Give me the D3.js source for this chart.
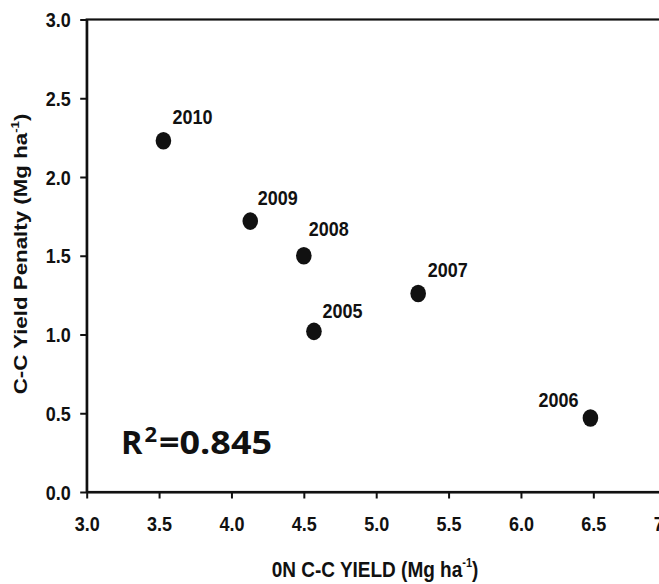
<!DOCTYPE html>
<html><head><meta charset="utf-8">
<script src="https://cdn.jsdelivr.net/npm/d3@7"></script>
<style>body{margin:0;background:#fff}svg{display:block}</style>
</head><body><svg id="c" width="659" height="584"></svg>
<script>
// ---- data ----
const years = ["2010", "2009", "2008", "2007", "2005", "2006"];
const yield0N = [3.53, 4.13, 4.50, 5.29, 4.57, 6.48];
const penalty = [2.23, 1.72, 1.50, 1.26, 1.02, 0.47];
const xTicks = [3.0, 3.5, 4.0, 4.5, 5.0, 5.5, 6.0, 6.5, 7.0];
const yTicks = [0.0, 0.5, 1.0, 1.5, 2.0, 2.5, 3.0];
const r2Value = "0.845";
const xTitle = "0N C-C YIELD (Mg ha";
const yTitle = "C-C Yield Penalty (Mg ha";

// ---- layout ----
const svg = d3.select("#c");
const x = d3.scaleLinear().domain([3, 7]).range([86.7, 665.7]);
const y = d3.scaleLinear().domain([0, 3]).range([492, 19.5]);
const font = "'Liberation Sans', Arial, Helvetica, sans-serif";
const ink = "#111";
// label offsets (px) relative to point centre
const labelPos = {
  "2010": {dx: 9, dy: -16.5, anchor: "start"},
  "2009": {dx: 7.5, dy: -16.5, anchor: "start"},
  "2008": {dx: 5, dy: -20, anchor: "start"},
  "2007": {dx: 9.5, dy: -16.5, anchor: "start"},
  "2005": {dx: 8.5, dy: -13.5, anchor: "start"},
  "2006": {dx: -12, dy: -10.5, anchor: "end"}
};

// frame
svg.append("rect")
  .attr("x", x(3)).attr("y", y(3))
  .attr("width", x(7) - x(3)).attr("height", y(0) - y(3))
  .attr("fill", "none").attr("stroke", ink).attr("stroke-width", 2.2);

// x axis
const gx = svg.append("g").attr("transform", `translate(0,${y(0)})`)
  .call(d3.axisBottom(x).tickValues(xTicks).tickSize(6.5).tickSizeOuter(0).tickFormat(d3.format(".1f")));
gx.select(".domain").attr("stroke", ink).attr("stroke-width", 2.2);
gx.selectAll(".tick line").attr("stroke", ink).attr("stroke-width", 2);
gx.selectAll(".tick text")
  .attr("y", null).attr("dy", null)
  .attr("transform", "translate(0,38.5) scale(1,1.1)")
  .attr("font-size", 18).attr("font-weight", "bold")
  .attr("font-family", font).attr("fill", ink);

// y axis
const gy = svg.append("g").attr("transform", `translate(${x(3)},0)`)
  .call(d3.axisLeft(y).tickValues(yTicks).tickSize(6.5).tickSizeOuter(0).tickFormat(d3.format(".1f")));
gy.select(".domain").attr("stroke", ink).attr("stroke-width", 2.2);
gy.selectAll(".tick line").attr("stroke", ink).attr("stroke-width", 2);
gy.selectAll(".tick text")
  .attr("x", null).attr("dy", "0.36em")
  .attr("transform", "translate(-16,0) scale(1,1.1)")
  .attr("text-anchor", "end")
  .attr("font-size", 18).attr("font-weight", "bold")
  .attr("font-family", font).attr("fill", ink);

// points
const pts = years.map((yr, i) => ({yr, xv: yield0N[i], yv: penalty[i]}));
svg.append("g").selectAll("ellipse").data(pts).join("ellipse")
  .attr("cx", d => x(d.xv)).attr("cy", d => y(d.yv))
  .attr("rx", 7.8).attr("ry", 8.8)
  .attr("fill", ink);

// point labels
svg.append("g").selectAll("text").data(pts).join("text")
  .attr("transform", d => `translate(${x(d.xv) + labelPos[d.yr].dx},${y(d.yv) + labelPos[d.yr].dy}) scale(1,1.15)`)
  .attr("text-anchor", d => labelPos[d.yr].anchor)
  .attr("font-size", 18).attr("font-weight", "bold")
  .attr("font-family", font).attr("fill", ink)
  .text(d => d.yr);

// x title
const xt = svg.append("text")
  .attr("transform", "translate(375,577) scale(1,1.2)")
  .attr("text-anchor", "middle")
  .attr("font-size", 19).attr("font-weight", "bold")
  .attr("font-family", font).attr("fill", ink);
xt.append("tspan").text(xTitle);
xt.append("tspan").attr("font-size", 11).attr("dy", -8).text("-1");
xt.append("tspan").attr("dy", 8).text(")");

// y title
const yt = svg.append("text")
  .attr("transform", "translate(26.7,254) rotate(-90) scale(1.2,1)")
  .attr("text-anchor", "middle")
  .attr("font-size", 18.6).attr("font-weight", "bold")
  .attr("font-family", font).attr("fill", ink);
yt.append("tspan").text(yTitle);
yt.append("tspan").attr("font-size", 11).attr("dy", -8).text("-1");
yt.append("tspan").attr("dy", 8).text(")");

// R^2 annotation
const rf = "'Open Sans', 'Noto Sans', sans-serif";
svg.append("text").attr("x", 121).attr("y", 454)
  .attr("font-size", 32.5).attr("font-weight", "bold").attr("font-family", rf).attr("fill", ink)
  .text("R");
svg.append("text").attr("x", 144.5).attr("y", 441.5)
  .attr("font-size", 22).attr("font-weight", "bold").attr("font-family", rf).attr("fill", ink)
  .text("2");
svg.append("text").attr("x", 159).attr("y", 454)
  .attr("font-size", 32.5).attr("font-weight", "bold").attr("font-family", rf).attr("fill", ink)
  .attr("textLength", 113).attr("lengthAdjust", "spacingAndGlyphs")
  .text("=" + r2Value);
</script>
</body></html>
